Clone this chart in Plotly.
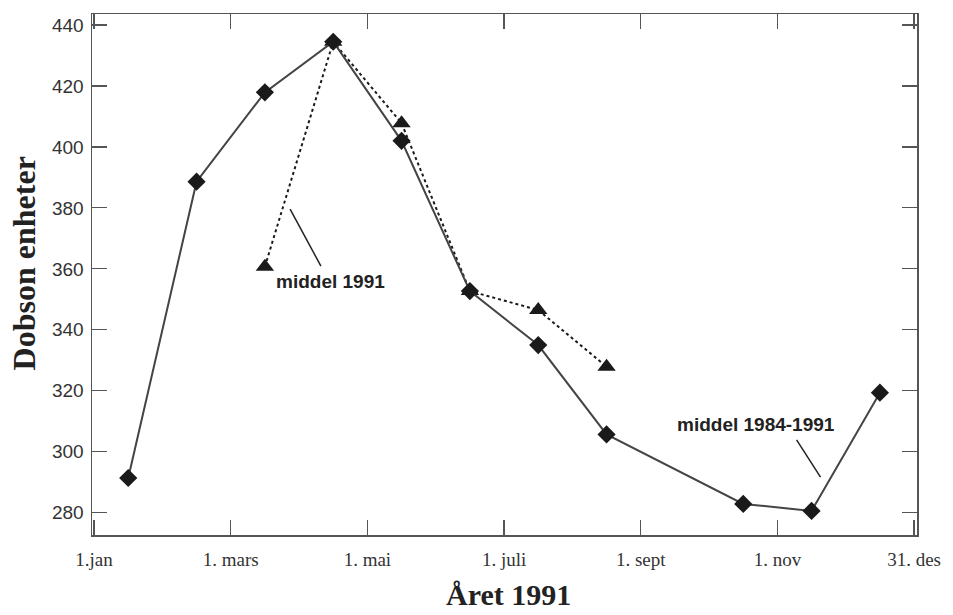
import plotly.graph_objects as go

# ---- data ----
months = ["jan", "feb", "mar", "apr", "mai", "jun", "jul", "aug", "sep", "okt", "nov", "des"]
# monthly mean ozone (Dobson units), solid line with diamonds
solid_months = ["jan", "feb", "mar", "apr", "mai", "jun", "jul", "aug", "okt", "nov", "des"]
solid_values = [291.4, 388.6, 417.9, 434.5, 402.0, 352.7, 335.0, 305.7, 282.9, 280.6, 319.4]
# dotted line with triangles
dotted_months = ["mar", "apr", "mai", "jun", "jul", "aug"]
dotted_values = [360.7, 434.5, 407.8, 352.7, 346.5, 327.9]

tick_pos = [0, 2, 4, 6, 8, 10, 12]
tick_labels = ["1.jan", "1. mars", "1. mai", "1. juli", "1. sept", "1. nov", "31. des"]
y_ticks = [280, 300, 320, 340, 360, 380, 400, 420, 440]

def mid(m):
    return months.index(m) + 0.5

xs_solid = [mid(m) for m in solid_months]
xs_dot = [mid(m) for m in dotted_months]

fig = go.Figure()
fig.add_trace(go.Scatter(
    x=xs_dot, y=dotted_values, mode="lines+markers",
    line=dict(color="#1a1a1a", width=2, dash="dot"),
    marker=dict(symbol="triangle-up", size=16, color="#1a1a1a"),
    showlegend=False, hoverinfo="skip"))
fig.add_trace(go.Scatter(
    x=xs_solid, y=solid_values, mode="lines+markers",
    line=dict(color="#444444", width=2),
    marker=dict(symbol="diamond", size=14, color="#1a1a1a"),
    showlegend=False, hoverinfo="skip"))

ann_font = dict(family="Liberation Sans", size=19, color="#222222")
fig.add_annotation(x=2.636, y=355.7, xref="x", yref="y", text="<b>middel 1991</b>",
                   showarrow=False, xanchor="left", yanchor="middle", font=ann_font)
fig.add_annotation(x=8.504, y=308.8, xref="x", yref="y", text="<b>middel 1984-1991</b>",
                   showarrow=False, xanchor="left", yanchor="middle", font=ann_font)
fig.add_shape(type="line", x0=2.869, y0=379.6, x1=3.320, y1=360.9, xref="x", yref="y",
              line=dict(color="#222222", width=1.5))
fig.add_shape(type="line", x0=10.281, y0=303.9, x1=10.631, y1=291.7, xref="x", yref="y",
              line=dict(color="#222222", width=1.5))

# axis titles
fig.add_annotation(x=-0.082, y=0.522, xref="paper", yref="paper", text="<b>Dobson enheter</b>",
                   textangle=-90, showarrow=False, xanchor="center", yanchor="middle",
                   font=dict(family="Liberation Serif", size=32, color="#222222"))
fig.add_annotation(x=0.5054, y=-0.115, xref="paper", yref="paper", text="<b>Året 1991</b>",
                   showarrow=False, xanchor="center", yanchor="middle",
                   font=dict(family="Liberation Serif", size=30, color="#222222"))

fig.update_layout(
    width=953, height=615,
    margin=dict(l=92, r=32, t=14, b=80),
    paper_bgcolor="white", plot_bgcolor="white",
    xaxis=dict(range=[-0.03, 12.043], tickvals=tick_pos, ticktext=tick_labels,
               ticks="inside", ticklen=15, tickwidth=1.2, tickcolor="#555555",
               showline=True, linecolor="#555555", linewidth=1.5, mirror="ticks",
               showgrid=False, zeroline=False,
               tickfont=dict(family="Liberation Serif", size=19, color="#333333"),
               ticklabelstandoff=7),
    yaxis=dict(range=[272.7, 443.6], tickvals=y_ticks,
               ticks="inside", ticklen=15, tickwidth=1.2, tickcolor="#555555",
               showline=True, linecolor="#555555", linewidth=1.5, mirror="ticks",
               showgrid=False, zeroline=False,
               tickfont=dict(family="Liberation Sans", size=19, color="#333333"),
               ticklabelstandoff=3),
)

fig.write_html("out.html",
               config={"displayModeBar": False, "staticPlot": True},
               post_script="document.body.style.margin='0';document.body.style.overflow='hidden';")
